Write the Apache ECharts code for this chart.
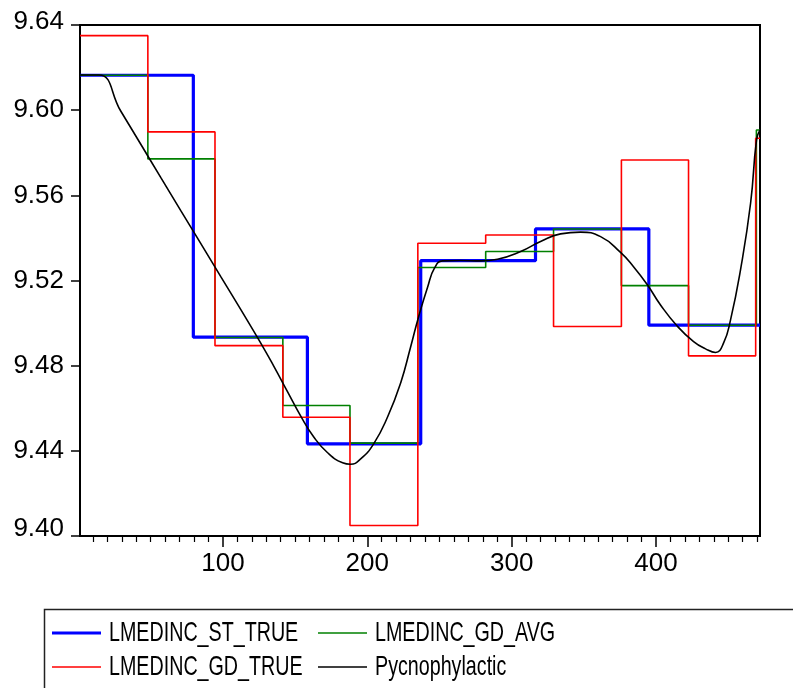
<!DOCTYPE html>
<html>
<head>
<meta charset="utf-8">
<script src="https://cdn.jsdelivr.net/npm/echarts@6/dist/echarts.min.js"></script>
<style>
html, body { margin: 0; padding: 0; background: #fff; }
#container { width: 793px; height: 688px; }
</style>
</head>
<body>
<div id="container"></div>
<script>
// step series: start of each block and its level
var stBreaks = [1, 79.5, 158.5, 237, 316.5, 395];
var stLevels = [9.6164, 9.4934, 9.4433, 9.5293, 9.5442, 9.4990];

var avgBreaks = [1, 48, 94.5, 141.5, 188, 235, 282, 329, 376, 422.5, 469.5];
var avgLevels = [9.6164, 9.5771, 9.4932, 9.4613, 9.4436, 9.5261, 9.5336, 9.5442, 9.5176, 9.4990, 9.5907];

var gdBreaks = [1, 48, 94.5, 141.5, 188, 235, 282, 329, 376, 422.5, 469];
var gdLevels = [9.6350, 9.5898, 9.4894, 9.4558, 9.4049, 9.5375, 9.5414, 9.4984, 9.5766, 9.4846, 9.5868];

// pycnophylactic curve samples
var pycX = [1, 14.1, 29.2, 43, 56.9, 70.7, 84.6, 98.4, 112.3, 126.1, 135.1, 144.8, 153.8, 162.8, 172.5,
  182.9, 188.4, 195.4, 204.4, 214.1, 223.1, 230, 235.5, 241.8, 246.6, 252.1, 264.6, 278.5, 290.2, 306.2,
  320, 333.9, 347.7, 361.6, 375.4, 384.4, 394.1, 403.1, 414.9, 426, 434.3, 441.2, 446.8, 451.6, 458.5,
  465.5, 469.6, 472];
var pycY = [9.6165, 9.6165, 9.5996, 9.5841, 9.5684, 9.5529, 9.5374, 9.5219, 9.5064, 9.4907, 9.4799,
  9.4677, 9.4564, 9.4466, 9.4391, 9.4344, 9.4337, 9.4362, 9.4433, 9.4560, 9.4719, 9.4888, 9.5029, 9.5170,
  9.5259, 9.5292, 9.5294, 9.5292, 9.5300, 9.5336, 9.5383, 9.5419, 9.5427, 9.5406, 9.5332, 9.5265, 9.5179,
  9.5085, 9.4984, 9.4913, 9.4879, 9.4862, 9.4907, 9.5015, 9.5250, 9.5564, 9.5860, 9.5907];

var xMin = 1, xMax = 472;
var majorTicks = [100, 200, 300, 400];
var minorTicks = [10, 20, 30, 40, 50, 60, 70, 80, 90, 110, 120, 130, 140, 150, 160, 170, 180, 190,
  210, 220, 230, 240, 250, 260, 270, 280, 290, 310, 320, 330, 340, 350, 360, 370, 380, 390,
  410, 420, 430, 440, 450, 460, 470];

var seriesNames = ['LMEDINC_ST_TRUE', 'LMEDINC_GD_AVG', 'LMEDINC_GD_TRUE', 'Pycnophylactic'];
var seriesColors = ['#0000ff', '#008000', '#ff0000', '#000000'];
var seriesWidths = [3.2, 1.6, 1.6, 1.6];

function stepData(breaks, levels) {
  var d = [];
  for (var i = 0; i < breaks.length; i++) d.push([breaks[i], levels[i]]);
  d.push([xMax, levels[levels.length - 1]]);
  return d;
}
var pycData = pycX.map(function (x, i) { return [x, pycY[i]]; });
var seriesData = [stepData(stBreaks, stLevels), stepData(avgBreaks, avgLevels),
  stepData(gdBreaks, gdLevels), pycData];

var dom = document.getElementById("container");
var myChart = echarts.init(dom);
var font = "'Liberation Sans', Arial, sans-serif";

option = {
  animation: false,
  grid: {
    left: 80, right: 33, top: 25, bottom: 152,
    show: true, borderColor: '#000', borderWidth: 2
  },
  xAxis: [{
    type: 'value', min: xMin, max: xMax,
    splitLine: { show: false },
    axisLine: { lineStyle: { color: '#000', width: 2 } },
    axisTick: { length: 11, lineStyle: { color: '#000', width: 1.5 }, customValues: majorTicks },
    axisLabel: { customValues: majorTicks, color: '#000', fontSize: 26, fontFamily: font, margin: 15 }
  }, {
    type: 'value', min: xMin, max: xMax, position: 'bottom',
    splitLine: { show: false },
    axisLine: { show: false },
    axisTick: { length: 6, lineStyle: { color: '#000', width: 1.2 }, customValues: minorTicks },
    axisLabel: { show: false }
  }],
  yAxis: {
    type: 'value', min: 9.40, max: 9.64, interval: 0.04,
    splitLine: { show: false },
    axisLine: { show: true, lineStyle: { color: '#000', width: 2 } },
    axisTick: { show: true, length: 9, lineStyle: { color: '#000', width: 1.5 } },
    axisLabel: {
      color: '#000', fontSize: 26, fontFamily: font, margin: 16,
      formatter: function (v) {
        var s = v.toFixed(2);
        if (s === '9.40') return '{low|' + s + '}';
        if (s === '9.64') return '{high|' + s + '}';
        return s;
      },
      rich: {
        low: { color: '#000', fontSize: 26, fontFamily: font, padding: [0, 0, 14, 0] },
        high: { color: '#000', fontSize: 26, fontFamily: font, padding: [0, 0, 6, 0] }
      }
    }
  },
  series: seriesNames.map(function (name, i) {
    var s = {
      name: name, type: 'line', symbol: 'none',
      data: seriesData[i],
      lineStyle: { color: seriesColors[i], width: seriesWidths[i] },
      itemStyle: { color: seriesColors[i] }
    };
    if (i < 3) s.step = 'end';
    else s.smooth = 0.5;
    return s;
  })
};
if (option && typeof option === "object") {
  myChart.setOption(option, true);
}

// legend box: two columns, two rows, text stretched like the original
var zr = myChart.getZr();
zr.add(new echarts.graphic.Rect({
  shape: { x: 44.5, y: 609.5, width: 760, height: 100 },
  style: { fill: 'none', stroke: '#222', lineWidth: 1.5 },
  silent: true
}));
seriesNames.forEach(function (name, i) {
  var col = i % 2, row = Math.floor(i / 2);
  var x0 = col === 0 ? 52 : 318;
  var y0 = row === 0 ? 633 : 667;
  zr.add(new echarts.graphic.Line({
    shape: { x1: x0, y1: y0, x2: x0 + 49, y2: y0 },
    style: { stroke: seriesColors[i], lineWidth: seriesWidths[i] },
    silent: true
  }));
  zr.add(new echarts.graphic.Text({
    x: x0 + 57, y: y0, scaleX: 1, scaleY: 1.42,
    style: { text: name, fill: '#000', fontSize: 19.7, fontFamily: font, verticalAlign: 'middle' },
    silent: true
  }));
});
</script>
</body>
</html>
